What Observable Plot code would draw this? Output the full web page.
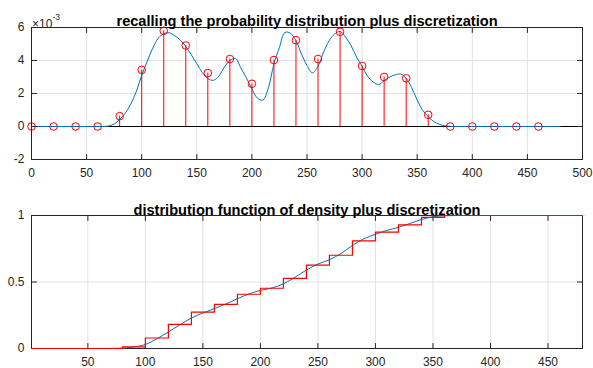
<!DOCTYPE html>
<html>
<head>
<meta charset="utf-8">
<script src="https://cdn.jsdelivr.net/npm/d3@7"></script>
<script src="https://cdn.jsdelivr.net/npm/@observablehq/plot@0.6"></script>
<style>
  html, body { margin: 0; padding: 0; background: #fff; }
  #chart svg { display: block; }
</style>
</head>
<body>
<div id="chart"></div>
<script>
// ---------- data (top: density in units of 1e-3) ----------
const gridX = [0,20,40,60,80,100,120,140,160,180,200,220,240,260,280,300,320,340,360,380,400,420,440,460];
const probValues = [0,0,0,0,0.63,3.43,5.80,4.91,3.24,4.09,2.59,4.03,5.23,4.09,5.74,3.67,3.00,2.92,0.71,0,0,0,0,0];

const densityX = [0,10,20,30,40,50,60,65,70,75,80,85,90,95,100,105,110,115,120,125,130,135,140,145,150,155,160,165,170,175,180,185,190,195,200,205,210,215,220,225,230,235,240,245,250,255,260,265,270,275,280,285,290,295,300,305,310,315,320,325,330,335,340,345,350,355,360,365,370,375,380,385,390,400,410,420,430,440,450,460,470,480];
const densityY = [0,0,0,0,0,0,0,0,0.03,0.15,0.42,0.8,1.35,2.1,3.1,3.95,4.75,5.35,5.62,5.68,5.5,5.25,4.85,4.35,3.8,3.27,2.9,2.8,3.05,3.6,4.0,4.13,3.55,2.95,2.28,1.72,1.6,2.35,3.8,4.8,5.7,5.65,5.2,4.4,3.7,3.25,3.65,4.5,5.19,5.6,5.76,5.42,4.9,4.2,3.65,3.05,2.7,2.55,2.78,3.0,3.13,3.18,2.92,2.35,1.6,0.98,0.6,0.3,0.14,0.05,0.01,0,0,0,0,0,0,0,0,0,0,0];

// ---------- data (bottom: distribution function) ----------
const cdfX = [1,10,20,30,40,50,60,70,80,90,100,110,120,130,140,150,160,170,180,190,200,210,220,230,240,250,260,270,280,290,300,310,320,330,340,350,360,370,380,390,400,410,420,430,440,450,460,470,480];
const cdfY = [0,0,0,0,0,0,0,0.0003,0.003,0.012,0.03,0.073,0.124,0.178,0.229,0.267,0.3,0.335,0.374,0.41,0.437,0.455,0.486,0.535,0.59,0.635,0.667,0.714,0.775,0.825,0.859,0.888,0.911,0.94,0.97,0.99,0.998,1,1,1,1,1,1,1,1,1,1,1,1];
const cdfSteps = [0,0,0,0,0.012,0.079,0.181,0.274,0.332,0.408,0.453,0.528,0.627,0.701,0.809,0.875,0.929,0.986,1,1,1,1,1,1];
const stepStartX = 1;
const stepEndX = 480;

// ---------- ticks & texts ----------
const topXTicks = [0,50,100,150,200,250,300,350,400,450,500];
const topYTicks = [-2,0,2,4,6];
const botXTicks = [50,100,150,200,250,300,350,400,450];
const botYTicks = [0,0.5,1];
const topTitle = "recalling the probability distribution plus discretization";
const botTitle = "distribution function of density plus discretization";
const expBase = "×10";
const expPow = "-3";

// ---------- styles ----------
const ink = "#262626";
const gridColor = "#e2e2e2";
const blue = "#0072BD";
const red = "#FF0000";
const fontFamily = "'Liberation Sans', Arial, Helvetica, sans-serif";

const tickShape = { draw(ctx, l) { ctx.moveTo(0, 0); ctx.lineTo(0, -l); } };
function boxTicks(xt, yt) {
  const o = { length: 5, anchor: "start", shape: tickShape, stroke: ink, strokeWidth: 1 };
  return [
    Plot.vector(xt, { ...o, x: d => d, frameAnchor: "bottom", rotate: 0 }),
    Plot.vector(xt, { ...o, x: d => d, frameAnchor: "top", rotate: 180 }),
    Plot.vector(yt, { ...o, y: d => d, frameAnchor: "left", rotate: 90 }),
    Plot.vector(yt, { ...o, y: d => d, frameAnchor: "right", rotate: -90 })
  ];
}

const probs = gridX.map((x, i) => ({ x, v: probValues[i] }));
const density = densityX.map((x, i) => ({ x, y: densityY[i] }));
const cdf = cdfX.map((x, i) => ({ x, y: cdfY[i] }));
const stairs = gridX.map((x, i) => ({ x: Math.max(x, stepStartX), y: cdfSteps[i] }))
  .concat([{ x: stepEndX, y: cdfSteps[cdfSteps.length - 1] }]);

const topChart = Plot.plot({
  width: 593, height: 190,
  marginLeft: 31, marginRight: 11, marginTop: 27, marginBottom: 31,
  style: { fontFamily, fontSize: "12px", color: ink, background: "#fff", overflow: "visible" },
  x: { domain: [0, 500] },
  y: { domain: [-2, 6] },
  marks: [
    Plot.gridX(topXTicks, { stroke: gridColor, strokeOpacity: 1 }),
    Plot.gridY(topYTicks, { stroke: gridColor, strokeOpacity: 1 }),
    Plot.ruleY([0], { stroke: "#000", strokeWidth: 1 }),
    Plot.line(density, { x: "x", y: "y", stroke: blue, strokeWidth: 1, curve: "catmull-rom" }),
    Plot.ruleX(probs, { x: "x", y1: 0, y2: "v", stroke: red, strokeWidth: 1 }),
    Plot.dot(probs, { x: "x", y: "v", r: 3.8, stroke: red, strokeWidth: 1, fill: "none" }),
    Plot.frame({ stroke: ink }),
    ...boxTicks(topXTicks, topYTicks),
    Plot.axisX(topXTicks, { tickSize: 0, tickPadding: 8.8, label: null, tickFormat: d => String(d), fill: ink, fontSize: 12 }),
    Plot.axisY(topYTicks, { tickSize: 0, tickPadding: 7, label: null, tickFormat: d => String(d), fill: ink, fontSize: 12 }),
    Plot.text([expBase], { text: d => d, frameAnchor: "top-left", textAnchor: "start", dx: 0.5, dy: -7.8, fontSize: 12, fill: ink }),
    Plot.text([expPow], { text: d => d, frameAnchor: "top-left", textAnchor: "start", dx: 21, dy: -13.8, fontSize: 8.5, fill: ink }),
    Plot.text([topTitle], { text: d => d, frameAnchor: "top", dy: -11.6, fontSize: 14.6, fontWeight: "bold", fill: "#000" })
  ]
});

const bottomChart = Plot.plot({
  width: 593, height: 178,
  marginLeft: 31, marginRight: 11, marginTop: 25, marginBottom: 20,
  style: { fontFamily, fontSize: "12px", color: ink, background: "#fff", overflow: "visible" },
  x: { domain: [1, 480] },
  y: { domain: [0, 1] },
  marks: [
    Plot.gridX(botXTicks, { stroke: gridColor, strokeOpacity: 1 }),
    Plot.gridY(botYTicks, { stroke: gridColor, strokeOpacity: 1 }),
    Plot.frame({ stroke: ink }),
    ...boxTicks(botXTicks, botYTicks),
    Plot.line(cdf, { x: "x", y: "y", stroke: blue, strokeWidth: 1, curve: "monotone-x" }),
    Plot.line(stairs, { x: "x", y: "y", stroke: red, strokeWidth: 1.2, curve: "step-after" }),
    Plot.axisX(botXTicks, { tickSize: 0, tickPadding: 8.8, label: null, tickFormat: d => String(d), fill: ink, fontSize: 12 }),
    Plot.axisY(botYTicks, { tickSize: 0, tickPadding: 7, label: null, tickFormat: d => String(d), fill: ink, fontSize: 12 }),
    Plot.text([botTitle], { text: d => d, frameAnchor: "top", dy: -10.9, fontSize: 14.6, fontWeight: "bold", fill: "#000" })
  ]
});

const root = document.getElementById("chart");
root.appendChild(topChart);
root.appendChild(bottomChart);
</script>
</body>
</html>
